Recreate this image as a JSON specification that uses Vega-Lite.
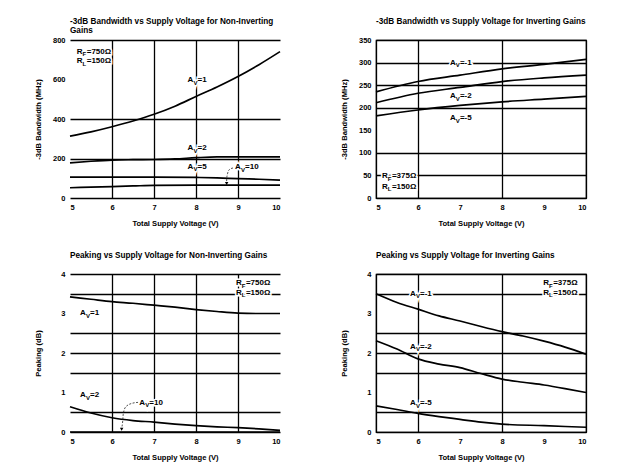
{
"$schema":"https://vega.github.io/schema/vega-lite/v6.json",
"background":"white",
"padding":{"left":34,"top":16,"right":5,"bottom":5},
"columns":2,
"spacing":{"row":76,"column":96},
"bounds":"flush",
"config":{
 "font":"Liberation Sans",
 "view":{"stroke":"black","strokeWidth":1.2},
 "axis":{"labelFont":"Liberation Sans","labelFontSize":7.5,"labelFontWeight":"bold","labelColor":"black","ticks":false,"domain":false,"grid":true,"gridColor":"black","gridWidth":1.3,"titleFont":"Liberation Sans","titleFontSize":7.6,"titleFontWeight":"bold","titleColor":"black"},
 "axisX":{"labelPadding":5,"titlePadding":9},
 "axisY":{"labelPadding":5,"titlePadding":11,"minExtent":17,"maxExtent":17},
 "title":{"font":"Liberation Sans","fontSize":8.2,"fontWeight":"bold","color":"black","anchor":"start","frame":"group","baseline":"top","offset":10,"lineHeight":9}
},
"datasets":{
 "tl":[
  {"g":"1","x":5,"y":313},{"g":"1","x":5.5,"y":335},{"g":"1","x":6,"y":361},{"g":"1","x":6.5,"y":390},{"g":"1","x":7,"y":424},{"g":"1","x":7.5,"y":465},{"g":"1","x":8,"y":514},{"g":"1","x":8.5,"y":562},{"g":"1","x":9,"y":615},{"g":"1","x":9.5,"y":675},{"g":"1","x":10,"y":741},
  {"g":"2","x":5,"y":178},{"g":"2","x":5.5,"y":186},{"g":"2","x":6,"y":192},{"g":"2","x":6.5,"y":194},{"g":"2","x":7,"y":195},{"g":"2","x":7.5,"y":198},{"g":"2","x":8,"y":204},{"g":"2","x":8.5,"y":208},{"g":"2","x":9,"y":208},{"g":"2","x":9.5,"y":208},{"g":"2","x":10,"y":208},
  {"g":"5","x":5,"y":106},{"g":"5","x":6,"y":106},{"g":"5","x":7,"y":106},{"g":"5","x":8,"y":104},{"g":"5","x":8.5,"y":102},{"g":"5","x":9,"y":98},{"g":"5","x":9.5,"y":95},{"g":"5","x":10,"y":91},
  {"g":"10","x":5,"y":52},{"g":"10","x":5.5,"y":55},{"g":"10","x":6,"y":58},{"g":"10","x":6.5,"y":61},{"g":"10","x":7,"y":64},{"g":"10","x":8,"y":65},{"g":"10","x":9,"y":65},{"g":"10","x":10,"y":65}
 ],
 "tr":[
  {"g":"-1","x":5,"y":235},{"g":"-1","x":6,"y":258},{"g":"-1","x":7,"y":272},{"g":"-1","x":8,"y":286},{"g":"-1","x":9,"y":296},{"g":"-1","x":10,"y":307},
  {"g":"-2","x":5,"y":211},{"g":"-2","x":6,"y":232},{"g":"-2","x":7,"y":245},{"g":"-2","x":8,"y":258},{"g":"-2","x":9,"y":266},{"g":"-2","x":10,"y":272},
  {"g":"-5","x":5,"y":182},{"g":"-5","x":6,"y":195},{"g":"-5","x":7,"y":205},{"g":"-5","x":8,"y":213},{"g":"-5","x":9,"y":219},{"g":"-5","x":10,"y":225}
 ],
 "bl":[
  {"g":"1","x":5,"y":3.42},{"g":"1","x":5.5,"y":3.36},{"g":"1","x":6,"y":3.30},{"g":"1","x":6.5,"y":3.26},{"g":"1","x":7,"y":3.21},{"g":"1","x":7.5,"y":3.16},{"g":"1","x":8,"y":3.10},{"g":"1","x":8.5,"y":3.05},{"g":"1","x":9,"y":3.01},{"g":"1","x":9.5,"y":3.0},{"g":"1","x":10,"y":3.0},
  {"g":"2","x":5,"y":0.64},{"g":"2","x":5.5,"y":0.48},{"g":"2","x":6,"y":0.36},{"g":"2","x":6.5,"y":0.29},{"g":"2","x":7,"y":0.25},{"g":"2","x":7.5,"y":0.20},{"g":"2","x":8,"y":0.16},{"g":"2","x":8.5,"y":0.13},{"g":"2","x":9,"y":0.11},{"g":"2","x":9.5,"y":0.08},{"g":"2","x":10,"y":0.04},
  {"g":"10","x":5,"y":0},{"g":"10","x":10,"y":0}
 ],
 "br":[
  {"g":"-1","x":5,"y":3.50},{"g":"-1","x":5.5,"y":3.28},{"g":"-1","x":6,"y":3.11},{"g":"-1","x":6.5,"y":2.94},{"g":"-1","x":7,"y":2.81},{"g":"-1","x":7.5,"y":2.67},{"g":"-1","x":8,"y":2.54},{"g":"-1","x":8.5,"y":2.43},{"g":"-1","x":9,"y":2.30},{"g":"-1","x":9.5,"y":2.15},{"g":"-1","x":10,"y":1.97},
  {"g":"-2","x":5,"y":2.31},{"g":"-2","x":5.5,"y":2.10},{"g":"-2","x":6,"y":1.85},{"g":"-2","x":6.5,"y":1.72},{"g":"-2","x":7,"y":1.63},{"g":"-2","x":7.5,"y":1.48},{"g":"-2","x":8,"y":1.34},{"g":"-2","x":8.5,"y":1.26},{"g":"-2","x":9,"y":1.19},{"g":"-2","x":9.5,"y":1.10},{"g":"-2","x":10,"y":1.00},
  {"g":"-5","x":5,"y":0.66},{"g":"-5","x":5.5,"y":0.57},{"g":"-5","x":6,"y":0.47},{"g":"-5","x":6.5,"y":0.39},{"g":"-5","x":7,"y":0.32},{"g":"-5","x":7.5,"y":0.25},{"g":"-5","x":8,"y":0.20},{"g":"-5","x":9,"y":0.16},{"g":"-5","x":10,"y":0.12}
 ],
 "tl_lab":[
  {"x":7.8,"y":595,"m":"A","s":"V","r":"=1"},
  {"x":7.8,"y":252,"m":"A","s":"V","r":"=2"},
  {"x":7.8,"y":158,"m":"A","s":"V","r":"=5"},
  {"x":8.93,"y":155,"m":"A","s":"V","r":"=10"},
  {"x":5.16,"y":741,"m":"R","s":"F","r":"=750Ω"},
  {"x":5.16,"y":694,"m":"R","s":"L","r":"=150Ω"}
 ],
 "tr_lab":[
  {"x":6.76,"y":300,"m":"A","s":"V","r":"=-1"},
  {"x":6.76,"y":226,"m":"A","s":"V","r":"=-2"},
  {"x":6.76,"y":177,"m":"A","s":"V","r":"=-5"},
  {"x":5.14,"y":48,"m":"R","s":"F","r":"=375Ω"},
  {"x":5.14,"y":25,"m":"R","s":"L","r":"=150Ω"}
 ],
 "bl_lab":[
  {"x":8.95,"y":3.77,"m":"R","s":"F","r":"=750Ω"},
  {"x":8.95,"y":3.53,"m":"R","s":"L","r":"=150Ω"},
  {"x":5.24,"y":3.01,"m":"A","s":"V","r":"=1"},
  {"x":5.24,"y":0.93,"m":"A","s":"V","r":"=2"},
  {"x":6.65,"y":0.74,"m":"A","s":"V","r":"=10"}
 ],
 "br_lab":[
  {"x":8.98,"y":3.77,"m":"R","s":"F","r":"=375Ω"},
  {"x":8.98,"y":3.53,"m":"R","s":"L","r":"=150Ω"},
  {"x":5.81,"y":3.50,"m":"A","s":"V","r":"=-1"},
  {"x":5.81,"y":2.16,"m":"A","s":"V","r":"=-2"},
  {"x":5.81,"y":0.73,"m":"A","s":"V","r":"=-5"}
 ],
 "tl_arrow":[{"i":0,"x":8.88,"y":152},{"i":1,"x":8.79,"y":143},{"i":2,"x":8.75,"y":122},{"i":3,"x":8.73,"y":97},{"i":4,"x":8.73,"y":78}],
 "tl_head":[{"x":8.73,"y":74}],
 "bl_arrow":[{"i":0,"x":6.62,"y":0.75},{"i":1,"x":6.49,"y":0.73},{"i":2,"x":6.33,"y":0.64},{"i":3,"x":6.27,"y":0.47},{"i":4,"x":6.25,"y":0.22},{"i":5,"x":6.23,"y":0.1}],
 "bl_head":[{"x":6.23,"y":0.07}]
},
"concat":[
 {
  "width":210,"height":158,
  "title":{"text":["-3dB Bandwidth vs Supply Voltage for Non-Inverting","Gains"],"offset":0.5},
  "view":{"stroke":null},
  "encoding":{
   "x":{"field":"x","type":"quantitative","scale":{"domain":[5,10],"nice":false},"axis":{"values":[5,6,7,8,9,10],"title":"Total Supply Voltage (V)","gridOpacity":{"condition":{"test":"datum.value===5 || datum.value===10","value":0},"value":1}}},
   "y":{"field":"y","type":"quantitative","scale":{"domain":[0,800],"nice":false},"axis":{"values":[0,200,400,600,800],"title":"-3dB Bandwidth (MHz)","gridOpacity":{"condition":{"test":"datum.value===600","value":0},"value":1}}}
  },
  "layer":[
   {"data":{"name":"tl_lab"},"mark":{"type":"text","align":"left","baseline":"middle","fontSize":8,"fontWeight":"bold","fill":"white","stroke":"white","strokeWidth":3},"encoding":{"text":{"field":"m"}}},
   {"data":{"name":"tl_lab"},"mark":{"type":"text","align":"left","baseline":"middle","fontSize":6,"fontWeight":"bold","dx":5.9,"dy":2.6,"fill":"white","stroke":"white","strokeWidth":3},"encoding":{"text":{"field":"s"}}},
   {"data":{"name":"tl_lab"},"mark":{"type":"text","align":"left","baseline":"middle","fontSize":8,"fontWeight":"bold","dx":10,"fill":"white","stroke":"white","strokeWidth":3},"encoding":{"text":{"field":"r"}}},
   {"data":{"name":"tl"},"mark":{"type":"line","interpolate":"monotone","color":"black","strokeWidth":1.7},"encoding":{"detail":{"field":"g","type":"nominal"}}},
   {"data":{"name":"tl_arrow"},"mark":{"type":"line","interpolate":"monotone","color":"#222","strokeWidth":0.8,"strokeDash":[2,1.5]},"encoding":{"order":{"field":"i","type":"quantitative"}}},
   {"data":{"name":"tl_head"},"mark":{"type":"point","shape":"triangle-down","filled":true,"size":12,"color":"black","opacity":1}},
   {"data":{"name":"tl_lab"},"mark":{"type":"text","align":"left","baseline":"middle","fontSize":8,"fontWeight":"bold","fill":"black"},"encoding":{"text":{"field":"m"}}},
   {"data":{"name":"tl_lab"},"mark":{"type":"text","align":"left","baseline":"middle","fontSize":6,"fontWeight":"bold","dx":5.9,"dy":2.6,"fill":"black"},"encoding":{"text":{"field":"s"}}},
   {"data":{"name":"tl_lab"},"mark":{"type":"text","align":"left","baseline":"middle","fontSize":8,"fontWeight":"bold","dx":10,"fill":"black"},"encoding":{"text":{"field":"r"}}}
  ]
 },
 {
  "width":210,"height":158,
  "title":{"text":"-3dB Bandwidth vs Supply Voltage for Inverting Gains"},
  "encoding":{
   "x":{"field":"x","type":"quantitative","scale":{"domain":[5,10],"nice":false},"axis":{"values":[5,6,7,8,9,10],"title":"Total Supply Voltage (V)","gridOpacity":{"condition":{"test":"datum.value===7 || datum.value===9","value":0},"value":1}}},
   "y":{"field":"y","type":"quantitative","scale":{"domain":[0,350],"nice":false},"axis":{"values":[0,50,100,150,200,250,300,350],"title":"-3dB Bandwidth (MHz)","gridOpacity":{"condition":{"test":"datum.value===150","value":0},"value":1}}}
  },
  "layer":[
   {"data":{"name":"tr_lab"},"mark":{"type":"text","align":"left","baseline":"middle","fontSize":8,"fontWeight":"bold","fill":"white","stroke":"white","strokeWidth":3},"encoding":{"text":{"field":"m"}}},
   {"data":{"name":"tr_lab"},"mark":{"type":"text","align":"left","baseline":"middle","fontSize":6,"fontWeight":"bold","dx":5.9,"dy":2.6,"fill":"white","stroke":"white","strokeWidth":3},"encoding":{"text":{"field":"s"}}},
   {"data":{"name":"tr_lab"},"mark":{"type":"text","align":"left","baseline":"middle","fontSize":8,"fontWeight":"bold","dx":10,"fill":"white","stroke":"white","strokeWidth":3},"encoding":{"text":{"field":"r"}}},
   {"data":{"name":"tr"},"mark":{"type":"line","interpolate":"monotone","color":"black","strokeWidth":1.7},"encoding":{"detail":{"field":"g","type":"nominal"}}},
   {"data":{"name":"tr_lab"},"mark":{"type":"text","align":"left","baseline":"middle","fontSize":8,"fontWeight":"bold","fill":"black"},"encoding":{"text":{"field":"m"}}},
   {"data":{"name":"tr_lab"},"mark":{"type":"text","align":"left","baseline":"middle","fontSize":6,"fontWeight":"bold","dx":5.9,"dy":2.6,"fill":"black"},"encoding":{"text":{"field":"s"}}},
   {"data":{"name":"tr_lab"},"mark":{"type":"text","align":"left","baseline":"middle","fontSize":8,"fontWeight":"bold","dx":10,"fill":"black"},"encoding":{"text":{"field":"r"}}}
  ]
 },
 {
  "width":210,"height":158,
  "title":{"text":"Peaking vs Supply Voltage for Non-Inverting Gains"},
  "view":{"stroke":null},
  "encoding":{
   "x":{"field":"x","type":"quantitative","scale":{"domain":[5,10],"nice":false},"axis":{"values":[5,6,7,8,9,10],"title":"Total Supply Voltage (V)","gridOpacity":{"condition":{"test":"datum.value===5 || datum.value===10","value":0},"value":1}}},
   "y":{"field":"y","type":"quantitative","scale":{"domain":[0,4],"nice":false},"axis":{"values":[0,0.5,1,1.5,2,2.5,3,3.5,4],"labelExpr":"datum.value % 1 === 0 ? format(datum.value, 'd') : ''","title":"Peaking (dB)","gridOpacity":{"condition":{"test":"datum.value===1 || datum.value===3","value":0},"value":1}}}
  },
  "layer":[
   {"data":{"name":"bl_lab"},"mark":{"type":"text","align":"left","baseline":"middle","fontSize":8,"fontWeight":"bold","fill":"white","stroke":"white","strokeWidth":3},"encoding":{"text":{"field":"m"}}},
   {"data":{"name":"bl_lab"},"mark":{"type":"text","align":"left","baseline":"middle","fontSize":6,"fontWeight":"bold","dx":5.9,"dy":2.6,"fill":"white","stroke":"white","strokeWidth":3},"encoding":{"text":{"field":"s"}}},
   {"data":{"name":"bl_lab"},"mark":{"type":"text","align":"left","baseline":"middle","fontSize":8,"fontWeight":"bold","dx":10,"fill":"white","stroke":"white","strokeWidth":3},"encoding":{"text":{"field":"r"}}},
   {"data":{"name":"bl"},"mark":{"type":"line","interpolate":"monotone","color":"black","strokeWidth":1.7},"encoding":{"detail":{"field":"g","type":"nominal"}}},
   {"data":{"name":"bl_arrow"},"mark":{"type":"line","interpolate":"monotone","color":"#222","strokeWidth":0.8,"strokeDash":[2,1.5]},"encoding":{"order":{"field":"i","type":"quantitative"}}},
   {"data":{"name":"bl_head"},"mark":{"type":"point","shape":"triangle-down","filled":true,"size":12,"color":"black","opacity":1}},
   {"data":{"name":"bl_lab"},"mark":{"type":"text","align":"left","baseline":"middle","fontSize":8,"fontWeight":"bold","fill":"black"},"encoding":{"text":{"field":"m"}}},
   {"data":{"name":"bl_lab"},"mark":{"type":"text","align":"left","baseline":"middle","fontSize":6,"fontWeight":"bold","dx":5.9,"dy":2.6,"fill":"black"},"encoding":{"text":{"field":"s"}}},
   {"data":{"name":"bl_lab"},"mark":{"type":"text","align":"left","baseline":"middle","fontSize":8,"fontWeight":"bold","dx":10,"fill":"black"},"encoding":{"text":{"field":"r"}}}
  ]
 },
 {
  "width":210,"height":158,
  "title":{"text":"Peaking vs Supply Voltage for Inverting Gains"},
  "encoding":{
   "x":{"field":"x","type":"quantitative","scale":{"domain":[5,10],"nice":false},"axis":{"values":[5,6,7,8,9,10],"title":"Total Supply Voltage (V)","gridOpacity":{"condition":{"test":"datum.value===7 || datum.value===9","value":0},"value":1}}},
   "y":{"field":"y","type":"quantitative","scale":{"domain":[0,4],"nice":false},"axis":{"values":[0,0.5,1,1.5,2,2.5,3,3.5,4],"labelExpr":"datum.value % 1 === 0 ? format(datum.value, 'd') : ''","title":"Peaking (dB)","gridOpacity":{"condition":{"test":"datum.value===1 || datum.value===3","value":0},"value":1}}}
  },
  "layer":[
   {"data":{"name":"br_lab"},"mark":{"type":"text","align":"left","baseline":"middle","fontSize":8,"fontWeight":"bold","fill":"white","stroke":"white","strokeWidth":3},"encoding":{"text":{"field":"m"}}},
   {"data":{"name":"br_lab"},"mark":{"type":"text","align":"left","baseline":"middle","fontSize":6,"fontWeight":"bold","dx":5.9,"dy":2.6,"fill":"white","stroke":"white","strokeWidth":3},"encoding":{"text":{"field":"s"}}},
   {"data":{"name":"br_lab"},"mark":{"type":"text","align":"left","baseline":"middle","fontSize":8,"fontWeight":"bold","dx":10,"fill":"white","stroke":"white","strokeWidth":3},"encoding":{"text":{"field":"r"}}},
   {"data":{"name":"br"},"mark":{"type":"line","interpolate":"monotone","color":"black","strokeWidth":1.7},"encoding":{"detail":{"field":"g","type":"nominal"}}},
   {"data":{"name":"br_lab"},"mark":{"type":"text","align":"left","baseline":"middle","fontSize":8,"fontWeight":"bold","fill":"black"},"encoding":{"text":{"field":"m"}}},
   {"data":{"name":"br_lab"},"mark":{"type":"text","align":"left","baseline":"middle","fontSize":6,"fontWeight":"bold","dx":5.9,"dy":2.6,"fill":"black"},"encoding":{"text":{"field":"s"}}},
   {"data":{"name":"br_lab"},"mark":{"type":"text","align":"left","baseline":"middle","fontSize":8,"fontWeight":"bold","dx":10,"fill":"black"},"encoding":{"text":{"field":"r"}}}
  ]
 }
]
}
